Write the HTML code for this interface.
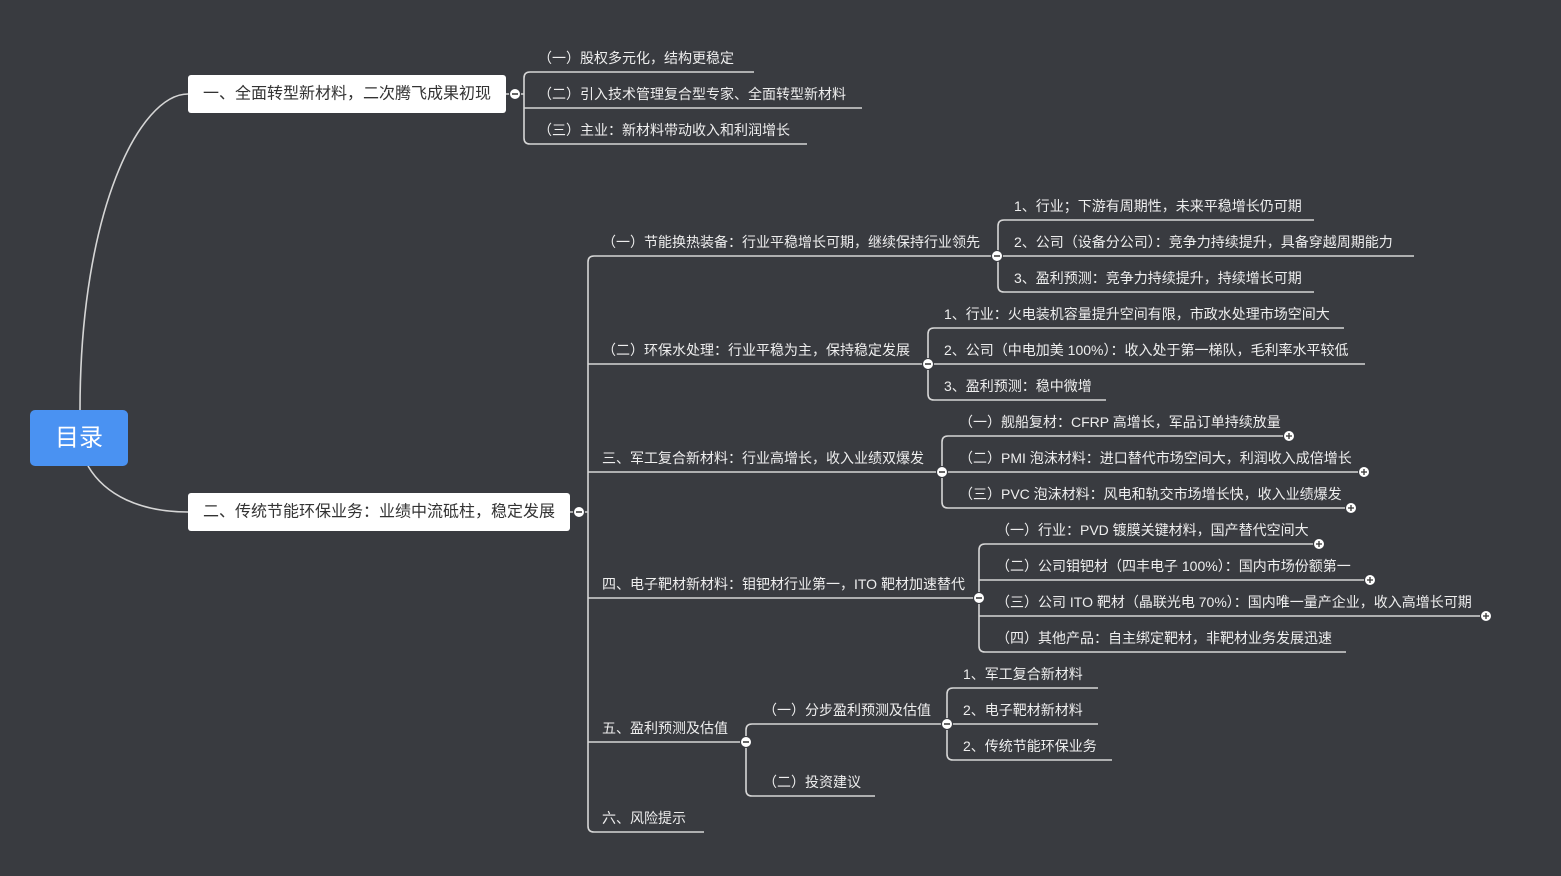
<!DOCTYPE html>
<html><head><meta charset="utf-8"><style>
html,body{margin:0;padding:0;background:#393b40;}
svg{display:block}
text{font-family:"Liberation Sans","Noto Sans CJK SC",sans-serif;fill:#eeeeee;font-size:14px;dominant-baseline:central}
.n{fill:#333;font-size:16px}
.l{fill:none;stroke:#d6d6d6;stroke-width:1.6}
</style></head><body>
<svg width="1561" height="876" viewBox="0 0 1561 876" xmlns="http://www.w3.org/2000/svg">
<rect width="1561" height="876" fill="#393b40"/>
<path class="l" d="M80,410 C80,210 140,94 188,94"/>
<path class="l" d="M88,466 C105,495 140,512 188,512"/>
<rect x="30" y="410" width="98" height="56" rx="5" fill="#4a92f2"/>
<text x="79" y="438" text-anchor="middle" style="fill:#fff;font-size:24px">目录</text>

<!-- node 1 -->
<rect x="188" y="75" width="318" height="38" rx="3" fill="#fff"/>
<text class="n" x="203" y="94">一、全面转型新材料，二次腾飞成果初现</text>
<path class="l" d="M506,94 H524"/>
<path class="l" d="M524,78 V138 M524,78 Q524,72 530,72 H754 M524,108 H862 M524,138 Q524,144 530,144 H807"/>
<text x="538" y="58">（一）股权多元化，结构更稳定</text>
<text x="538" y="94">（二）引入技术管理复合型专家、全面转型新材料</text>
<text x="538" y="130">（三）主业：新材料带动收入和利润增长</text>
<circle cx="515" cy="94" r="5.5" fill="#fff" stroke="#393b40" stroke-width="1"/><path d="M512,94 H518" stroke="#333" stroke-width="1.5"/>

<!-- node 2 -->
<rect x="188" y="493" width="382" height="38" rx="3" fill="#fff"/>
<text class="n" x="203" y="512">二、传统节能环保业务：业绩中流砥柱，稳定发展</text>
<path class="l" d="M570,512 H588"/>
<path class="l" d="M588,262 V826 M588,262 Q588,256 594,256 H997 M588,364 H928 M588,472 H942 M588,598 H979 M588,742 H746 M588,826 Q588,832 594,832 H704"/>
<text x="602" y="242">（一）节能换热装备：行业平稳增长可期，继续保持行业领先</text>
<text x="602" y="350">（二）环保水处理：行业平稳为主，保持稳定发展</text>
<text x="602" y="458">三、军工复合新材料：行业高增长，收入业绩双爆发</text>
<text x="602" y="584">四、电子靶材新材料：钼钯材行业第一，ITO 靶材加速替代</text>
<text x="602" y="728">五、盈利预测及估值</text>
<text x="602" y="818">六、风险提示</text>

<path class="l" d="M998,226 V286 M998,226 Q998,220 1004,220 H1314 M998,256 H1414 M998,286 Q998,292 1004,292 H1314"/>
<text x="1014" y="206">1、行业；下游有周期性，未来平稳增长仍可期</text>
<text x="1014" y="242">2、公司（设备分公司）：竞争力持续提升，具备穿越周期能力</text>
<text x="1014" y="278">3、盈利预测：竞争力持续提升，持续增长可期</text>

<path class="l" d="M928,334 V394 M928,334 Q928,328 934,328 H1344 M928,364 H1365 M928,394 Q928,400 934,400 H1106"/>
<text x="944" y="314">1、行业：火电装机容量提升空间有限，市政水处理市场空间大</text>
<text x="944" y="350">2、公司（中电加美 100%）：收入处于第一梯队，毛利率水平较低</text>
<text x="944" y="386">3、盈利预测：稳中微增</text>

<path class="l" d="M942,442 V502 M942,442 Q942,436 948,436 H1289 M942,472 H1364 M942,502 Q942,508 948,508 H1351"/>
<text x="959" y="422">（一）舰船复材：CFRP 高增长，军品订单持续放量</text>
<text x="959" y="458">（二）PMI 泡沫材料：进口替代市场空间大，利润收入成倍增长</text>
<text x="959" y="494">（三）PVC 泡沫材料：风电和轨交市场增长快，收入业绩爆发</text>

<path class="l" d="M979,550 V646 M979,550 Q979,544 985,544 H1319 M979,580 H1370 M979,616 H1486 M979,646 Q979,652 985,652 H1346"/>
<text x="996" y="530">（一）行业：PVD 镀膜关键材料，国产替代空间大</text>
<text x="996" y="566">（二）公司钼钯材（四丰电子 100%）：国内市场份额第一</text>
<text x="996" y="602">（三）公司 ITO 靶材（晶联光电 70%）：国内唯一量产企业，收入高增长可期</text>
<text x="996" y="638">（四）其他产品：自主绑定靶材，非靶材业务发展迅速</text>

<path class="l" d="M746,730 V790 M746,730 Q746,724 752,724 H947 M746,790 Q746,796 752,796 H875"/>
<text x="763" y="710">（一）分步盈利预测及估值</text>
<text x="763" y="782">（二）投资建议</text>
<path class="l" d="M947,694 V754 M947,694 Q947,688 953,688 H1098 M947,724 H1098 M947,754 Q947,760 953,760 H1112"/>
<text x="963" y="674">1、军工复合新材料</text>
<text x="963" y="710">2、电子靶材新材料</text>
<text x="963" y="746">2、传统节能环保业务</text>

<g fill="#fff" stroke="#393b40" stroke-width="1">
<circle cx="579" cy="512" r="5.5"/><circle cx="997" cy="256" r="5.5"/><circle cx="928" cy="364" r="5.5"/>
<circle cx="942" cy="472" r="5.5"/><circle cx="979" cy="598" r="5.5"/><circle cx="746" cy="742" r="5.5"/><circle cx="947" cy="724" r="5.5"/>
</g>
<g stroke="#333" stroke-width="1.5">
<path d="M576,512 H582 M994,256 H1000 M925,364 H931 M939,472 H945 M976,598 H982 M743,742 H749 M944,724 H950"/>
</g>
<g fill="#fff" stroke="#393b40" stroke-width="1">
<circle cx="1289" cy="436" r="5.5"/><circle cx="1364" cy="472" r="5.5"/><circle cx="1351" cy="508" r="5.5"/>
<circle cx="1319" cy="544" r="5.5"/><circle cx="1370" cy="580" r="5.5"/><circle cx="1486" cy="616" r="5.5"/>
</g>
<g stroke="#333" stroke-width="1.3">
<path d="M1286,436 H1292 M1289,433 V439 M1361,472 H1367 M1364,469 V475 M1348,508 H1354 M1351,505 V511 M1316,544 H1322 M1319,541 V547 M1367,580 H1373 M1370,577 V583 M1483,616 H1489 M1486,613 V619"/>
</g>
</svg>
</body></html>
